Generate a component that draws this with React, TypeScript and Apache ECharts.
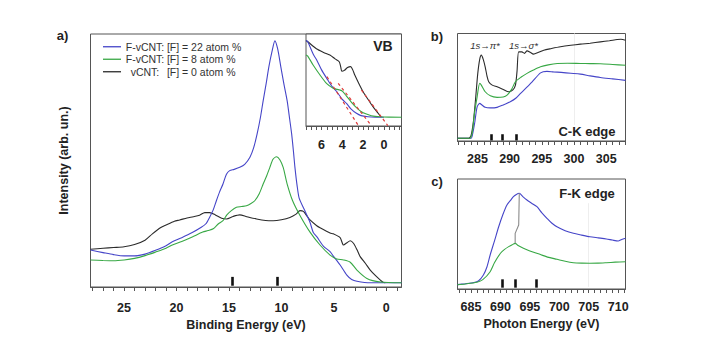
import React, { useEffect, useRef } from "react";
import * as echarts from "echarts";

// ---------- Panel a: valence band photoemission (binding energy eV, intensity arb. un.) ----------
const aBlue: [number, number][] = [
  [28.2, 14.6], [27, 13.6], [26, 12.8], [25, 12.3], [24, 12.3], [23, 13.0], [22, 14.5], [21, 16.3],
  [20.4, 17.9], [19.5, 19.5], [18.5, 21.5], [17.64, 23.6], [17.2, 25], [16.84, 27.6], [16.5, 30.5],
  [16.2, 34.1], [15.9, 37.5], [15.57, 40.7], [15.25, 44.5], [14.93, 46.0], [14.5, 46.5], [13.97, 47.3],
  [13.5, 48.5], [13.0, 51.3], [12.65, 55], [12.32, 60.4], [12.0, 67], [11.74, 73.6], [11.45, 80.5],
  [11.2, 86.9], [10.9, 93], [10.62, 97.3], [10.35, 94], [10.05, 86.9], [9.75, 80], [9.45, 73.6],
  [9.2, 66], [9.02, 60.4], [8.85, 53.5], [8.71, 47.3], [8.5, 40], [8.3, 35], [7.75, 30], [7.27, 25.5],
  [6.96, 21.5], [6.63, 19.9], [6.0, 16.2], [5.36, 14], [5.04, 12.2], [4.4, 8.7], [3.76, 4.7],
  [3.3, 3.0], [2.8, 2.3], [1.53, 1.7], [-1.45, 1.7],
];
const aGreen: [number, number][] = [
  [28.2, 10.7], [27, 10.5], [26, 10.4], [25, 10.7], [24, 11.3], [23, 12.4], [22, 13.8], [21, 15.3],
  [20.4, 16.6], [19.5, 18.0], [18.5, 19.8], [17.5, 21.7], [17.0, 22.3], [16.5, 23], [16.0, 25],
  [15.57, 26.2], [15.2, 28.5], [14.77, 30.2], [14.29, 31.5], [13.8, 31.8], [13.33, 32.1], [12.9, 33],
  [12.54, 34.1], [12.1, 37], [11.74, 40.7], [11.4, 44], [11.1, 47.3], [10.8, 50.5], [10.46, 51.5],
  [10.15, 50.3], [9.83, 47.3], [9.45, 40.7], [8.93, 34.1], [8.23, 28.3], [7.27, 21.7], [6.32, 16.6],
  [5.36, 12.6], [4.72, 11.1], [4.08, 10.7], [3.44, 9.8], [2.8, 6.7], [1.85, 3.4], [0.57, 2.0], [-1.45, 1.7],
];
const aBlack: [number, number][] = [
  [28.2, 14.9], [27, 15.3], [26, 15.6], [25, 15.9], [24, 16.8], [23, 18.5], [22.3, 21], [21.5, 23.5],
  [21.0, 24.5], [20.2, 26], [19.7, 26.5], [19, 27.3], [18.4, 27.8], [17.8, 28.4], [17.3, 29.4],
  [16.84, 29.4], [16.3, 28.5], [15.7, 27.2], [15.24, 26.9], [14.6, 27.9], [13.97, 28.5], [13.3, 27.8],
  [12.37, 26.9], [11.5, 26.3], [10.78, 26.2], [10.0, 26.6], [9.19, 27.5], [8.6, 28.8], [8.23, 30.2],
  [7.9, 29.9], [7.59, 28.2], [7.27, 26.5], [6.63, 24.2], [6.32, 23.4], [5.36, 21.3], [5.04, 21.0],
  [4.4, 19.5], [4.08, 16.6], [3.75, 17.5], [3.44, 18.3], [3.13, 17.3], [2.8, 14.8], [2.49, 12],
  [2.0, 9.4], [1.53, 6.7], [1.0, 4.4], [0.32, 1.9], [0.1, 1.7],
];
const aMarkers = [14.7, 10.4];
const aTickLabels = [0, 5, 10, 15, 20, 25];

// ---------- Inset: VB edge ----------
const vbBlue: [number, number][] = [
  [7.5, 93], [7.33, 91.6], [6.8, 78], [6.47, 71.7], [6.0, 61], [5.5, 51.8], [5.0, 43], [4.55, 37.5],
  [4.0, 29], [3.6, 24.6], [3.2, 19], [2.64, 13.8], [2.2, 11.3], [1.53, 10.1], [0.8, 9.6], [0, 9.5],
];
const vbGreen: [number, number][] = [
  [7.5, 77.2], [7.33, 76], [6.8, 66], [6.15, 55.4], [5.5, 46], [4.88, 41], [4.5, 39.8], [4.24, 39.1],
  [4.0, 38], [3.6, 32.5], [3.1, 25.5], [2.64, 20], [2.2, 15.8], [1.68, 13], [1.2, 11.2], [0.41, 10.0],
  [-0.5, 9.6], [-1.7, 9.5],
];
const vbBlack: [number, number][] = [
  [7.5, 93], [7.33, 91.6], [6.5, 84], [5.8, 80], [5.2, 77.2], [4.7, 73], [4.3, 69.9], [4.15, 64],
  [4.05, 59.5], [3.8, 60.5], [3.5, 63.5], [3.2, 64.5], [3.0, 61], [2.8, 55.4], [2.4, 46], [2.0, 37.3],
  [1.5, 28.5], [1.05, 21.0], [0.6, 14.5], [0.25, 9.5],
];
const vbTangentBlue: [number, number][] = [[5.48, 53.6], [2.49, 1.1]];
const vbTangentGreen: [number, number][] = [[4.4, 46.4], [1.37, 2.9]];
const vbTangentBlack: [number, number][] = [[2.16, 39.1], [-0.38, 0.5]];
const vbTickLabels = [0, 2, 4, 6];

// ---------- Panel b: C-K edge NEXAFS (photon energy eV) ----------
const bBlack: [number, number][] = [
  [281.9, 2.5], [283.6, 2.5], [284.0, 5], [284.4, 19.5], [284.75, 42], [285.05, 62.9], [285.35, 76],
  [285.6, 79.9], [285.9, 76], [286.2, 69], [286.5, 60], [286.75, 55.1], [287.3, 52], [288.05, 50.4],
  [289.0, 48], [289.85, 45.8], [290.5, 47.5], [290.9, 52], [291.15, 65], [291.4, 82.9], [291.9, 82.9],
  [292.3, 81.5], [292.7, 83.8], [293.2, 82.5], [293.7, 80.8], [294.5, 82.5], [295.3, 84.5], [296.5, 86],
  [297.9, 87.6], [299.5, 89], [301, 90.1], [302.5, 91], [304.1, 92.2], [305.5, 93.3], [306.7, 94.4],
  [307.3, 94.7], [308, 93.8],
];
const bGreen: [number, number][] = [
  [281.9, 2.5], [283.8, 2.5], [284.2, 8], [284.5, 24.1], [284.95, 41.1], [285.35, 53.6], [285.6, 52],
  [286.2, 45.8], [287.0, 42], [288.05, 40.6], [289.0, 41], [289.6, 42.7], [290.3, 48], [290.9, 55.1],
  [291.8, 59.5], [292.7, 62.9], [293.7, 66], [294.8, 69], [296, 70.8], [297.4, 72.1], [299, 72.3],
  [301, 72.1], [302.5, 72], [304.1, 71.9], [306, 71.2], [308, 70.4],
];
const bBlue: [number, number][] = [
  [281.9, 2.5], [284.0, 2.5], [284.3, 8], [284.6, 18], [284.95, 31.8], [285.35, 35], [285.7, 33.5],
  [286.2, 31.3], [287, 30.8], [288.05, 31.3], [289, 33.5], [290.1, 36.5], [291, 40], [291.7, 44.3],
  [292.5, 49], [293.5, 55], [294.8, 63.4], [295.8, 64.8], [296.8, 64.3], [298, 63.8], [299.5, 63],
  [301, 62.2], [302.5, 60.6], [304.1, 59.1], [306, 57.8], [308, 56.4],
];
const bMarkers = [287.1, 288.8, 291.0];
const bTickLabels = [285, 290, 295, 300, 305];

// ---------- Panel c: F-K edge NEXAFS ----------
const cBlue: [number, number][] = [
  [682.7, 4.0], [684, 4.8], [685.5, 5.9], [686.3, 7.5], [687.1, 12.7], [687.7, 20], [688.25, 30.9],
  [689, 44], [689.7, 56.6], [690.4, 67.5], [691.1, 76.4], [691.7, 80.5], [692.2, 83.9], [692.7, 86],
  [693.2, 87], [693.8, 84], [694.5, 80.9], [695.3, 78], [696.2, 74.8], [697, 69.5], [697.9, 64.3],
  [698.7, 60], [699.6, 56.6], [701, 53], [702.4, 50.6], [703.8, 49], [705.2, 47.5], [706.6, 46.5],
  [708, 45.5], [709, 44.5], [710, 43.6], [710.6, 45], [711.25, 46.1],
];
const cGreen: [number, number][] = [
  [682.7, 4.0], [684, 4.6], [686, 6.1], [687, 8.5], [688.25, 15.7], [689, 24], [690, 32.5], [690.7, 36],
  [691.4, 38.5], [692, 40.3], [692.5, 41.5], [693, 39.5], [693.9, 37], [695, 34.5], [696.7, 31.5],
  [698, 29], [699.6, 27], [701, 25.2], [702.4, 23.9], [703.8, 23.5], [705.2, 23.4], [706.6, 23.5],
  [708, 23.9], [709.5, 24.4], [711.25, 24.8],
];
const cShift: [number, number][] = [[692.5, 41.5], [692.5, 50.6], [693.1, 58.2], [693.2, 87]];
const cMarkers = [690.3, 692.5, 696.1];
const cTickLabels = [685, 690, 695, 700, 705, 710];

const N22 = "F-vCNT: [F] = 22 atom %";
const N8 = "F-vCNT: [F] = 8 atom %";
const N0 = "vCNT: [F] = 0 atom %";

const FONT = "'Liberation Sans', Arial, Helvetica, sans-serif";
const BLUE = "#4545c8";
const GREEN = "#38a845";
const BLACK = "#2b2b2b";
const FRAME = "#555555";
const RED = "#e03a3a";

const steps = (a: number, b: number, s: number) => {
  const out: number[] = [];
  for (let v = a; v <= b + 1e-9; v += s) out.push(Math.round(v * 100) / 100);
  return out;
};

const labelStyle = {
  fontFamily: FONT,
  fontSize: 12.5,
  fontWeight: "bold" as const,
  color: "#222",
};

function xAxisFor(
  gridIndex: number,
  min: number,
  max: number,
  ticks: number[],
  labels: number[],
  margin: number,
  inverse: boolean,
  name?: string,
  nameGap?: number
) {
  return {
    gridIndex,
    type: "value",
    min,
    max,
    inverse,
    axisLine: { show: true, lineStyle: { color: FRAME, width: 1 } },
    axisTick: { show: true, customValues: ticks, length: 4, lineStyle: { color: FRAME, width: 1 } },
    axisLabel: { show: true, customValues: labels, margin, ...labelStyle },
    splitLine: { show: false },
    name: name || "",
    nameLocation: "middle",
    nameGap: nameGap || 0,
    nameTextStyle: labelStyle,
  };
}

function line(name: string, data: [number, number][], color: string, xi: number, extra: any = {}) {
  return {
    type: "line",
    name,
    xAxisIndex: xi,
    yAxisIndex: xi,
    data,
    showSymbol: false,
    symbol: "none",
    smooth: 0.25,
    lineStyle: { color, width: 1.1 },
    itemStyle: { color },
    silent: true,
    ...extra,
  };
}

function markerLines(values: number[], y0: number, y1: number) {
  return {
    symbol: "none",
    silent: true,
    label: { show: false },
    lineStyle: { color: "#111", width: 2.6, type: "solid" },
    data: values.map((v) => [{ coord: [v, y0] }, { coord: [v, y1] }]),
  };
}

function faintLine(v: number, y0: number, y1: number) {
  return {
    symbol: "none",
    silent: true,
    z: 0,
    label: { show: false },
    lineStyle: { color: "#eeeeee", width: 1, type: "solid" },
    data: [[{ coord: [v, y0] }, { coord: [v, y1] }]],
  };
}

export default function App() {
  const ref = useRef<HTMLDivElement>(null);
  useEffect(() => {
    if (!ref.current) return;
    const chart = echarts.init(ref.current, undefined, { renderer: "svg" });
    const gridBase = { show: true, borderColor: FRAME, borderWidth: 1, backgroundColor: "transparent" };
    const txt = (x: number, y: number, text: string, font: string, fill = "#222") => ({
      type: "text",
      x,
      y,
      z: 100,
      style: { text, font, fill, align: "center", verticalAlign: "middle" },
    });
    const option: any = {
      animation: false,
      backgroundColor: "#fff",
      textStyle: { fontFamily: FONT },
      grid: [
        { ...gridBase, left: 90.5, top: 34, width: 311, height: 253 },
        { ...gridBase, left: 306, top: 34, width: 95.5, height: 92, backgroundColor: "#fff" },
        { ...gridBase, left: 457.5, top: 33.5, width: 168, height: 107.5 },
        { ...gridBase, left: 457.5, top: 179, width: 168, height: 110 },
      ],
      xAxis: [
        xAxisFor(0, -1.45, 28.2, steps(-1, 28, 1), aTickLabels, 14, true, "Binding Energy (eV)", 31),
        xAxisFor(1, -1.7, 7.5, steps(-1.5, 7.5, 0.5), vbTickLabels, 12, true),
        xAxisFor(2, 281.9, 308, steps(282, 308, 1), bTickLabels, 11.5, false),
        xAxisFor(3, 682.7, 711.25, steps(683, 711, 1), cTickLabels, 11.5, false, "Photon Energy (eV)", 28),
      ],
      yAxis: [
        {
          gridIndex: 0,
          type: "value",
          min: 0,
          max: 100,
          axisLine: { show: false },
          axisTick: { show: false },
          axisLabel: { show: false },
          splitLine: { show: false },
          name: "Intensity (arb. un.)",
          nameLocation: "middle",
          nameGap: 20,
          nameTextStyle: labelStyle,
        },
        { gridIndex: 1, type: "value", min: 0, max: 100, show: false, splitLine: { show: false } },
        { gridIndex: 2, type: "value", min: 0, max: 100, show: false, splitLine: { show: false } },
        { gridIndex: 3, type: "value", min: 0, max: 100, show: false, splitLine: { show: false } },
      ],
      legend: {
        data: [N22, N8, N0],
        orient: "vertical",
        left: 103,
        top: 40.5,
        itemGap: 0,
        itemWidth: 18,
        itemHeight: 1.3,
        icon: "rect",
        selectedMode: false,
        padding: 0,
        formatter: (name: string) => {
          const i = name.indexOf(":");
          return `{p|${name.slice(0, i + 1)}}{q|${name.slice(i + 1)}}`;
        },
        textStyle: {
          fontFamily: FONT,
          fontSize: 10.5,
          color: "#333",
          lineHeight: 12.5,
          rich: {
            p: { width: 38, align: "right", fontFamily: FONT, fontSize: 10.5, color: "#333", lineHeight: 12.5 },
            q: { fontFamily: FONT, fontSize: 10.5, color: "#333", lineHeight: 12.5 },
          },
        },
      },
      series: [
        line(N0, aBlack, BLACK, 0, { markLine: markerLines(aMarkers, 0.5, 4) }),
        line(N22, aBlue, BLUE, 0),
        line(N8, aGreen, GREEN, 0),
        line("vb0", vbBlack, BLACK, 1),
        line("vb22", vbBlue, BLUE, 1),
        line("vb8", vbGreen, GREEN, 1),
        line("t22", vbTangentBlue, RED, 1, { smooth: false, lineStyle: { color: RED, width: 1.2, type: [3, 3] } }),
        line("t8", vbTangentGreen, RED, 1, { smooth: false, lineStyle: { color: RED, width: 1.2, type: [3, 3] } }),
        line("t0", vbTangentBlack, RED, 1, { smooth: false, lineStyle: { color: RED, width: 1.2, type: [3, 3] } }),
        line("b0", bBlack, BLACK, 2, { markLine: markerLines(bMarkers, 0.5, 6.3), z: 3 }),
        line("b22", bBlue, BLUE, 2, { markLine: faintLine(300, 15, 100), z: 2 }),
        line("b8", bGreen, GREEN, 2),
        line("c22", cBlue, BLUE, 3, { markLine: faintLine(705, 2, 78) }),
        line("c8", cGreen, GREEN, 3, { markLine: markerLines(cMarkers, 1.2, 8.8) }),
        line("cshift", cShift, "#8a8a8a", 3, { smooth: false }),
      ],
      graphic: [
        txt(62.5, 35, "a)", `bold 13px ${FONT}`),
        txt(437, 36.5, "b)", `bold 13px ${FONT}`),
        txt(437, 181, "c)", `bold 13px ${FONT}`),
        txt(383, 46, "VB", `bold 14px ${FONT}`),
        txt(587, 131, "C-K edge", `bold 13px ${FONT}`),
        txt(587, 193.5, "F-K edge", `bold 13px ${FONT}`),
        txt(485, 45.5, "1s→π*", `italic 9.5px ${FONT}`, "#333"),
        txt(523.5, 45.5, "1s→σ*", `italic 9.5px ${FONT}`, "#333"),
      ],
    };
    chart.setOption(option);
    return () => chart.dispose();
  }, []);
  return (
    <div
      ref={ref}
      style={{ position: "absolute", left: 0, top: 0, width: 709, height: 342, background: "#fff" }}
    />
  );
}
